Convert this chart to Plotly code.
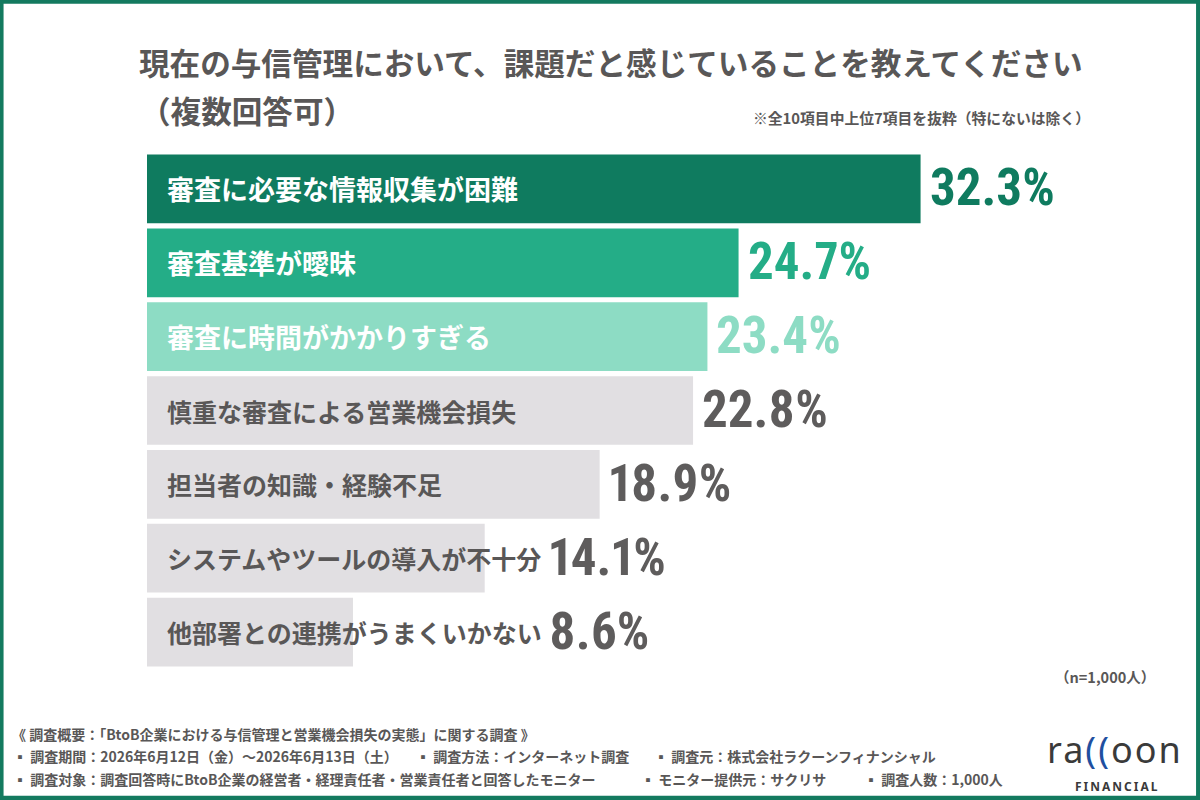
import plotly.graph_objects as go

categories = [
    "審査に必要な情報収集が困難",
    "審査基準が曖昧",
    "審査に時間がかかりすぎる",
    "慎重な審査による営業機会損失",
    "担当者の知識・経験不足",
    "システムやツールの導入が不十分",
    "他部署との連携がうまくいかない",
]
values = [32.3, 24.7, 23.4, 22.8, 18.9, 14.1, 8.6]
value_labels = ["32.3%", "24.7%", "23.4%", "22.8%", "18.9%", "14.1%", "8.6%"]

bar_colors = ["#0f7b5f", "#24ad87", "#8ddcc4", "#e1dfe2", "#e1dfe2", "#e1dfe2", "#e1dfe2"]
label_colors = ["#ffffff", "#ffffff", "#ffffff", "#595757", "#595757", "#595757", "#595757"]
value_colors = ["#0f7b5f", "#24ad87", "#8ddcc4", "#5e5c5c", "#5e5c5c", "#5e5c5c", "#5e5c5c"]
label_sizes = [27, 27, 27, 25, 25, 25, 25]

title_line1 = "現在の与信管理において、課題だと感じていることを教えてください"
title_line2 = "（複数回答可）"
note_text = "※全10項目中上位7項目を抜粋（特にないは除く）"
n_text = "（n=1,000人）"
footer_line1 = "《 調査概要：「BtoB企業における与信管理と営業機会損失の実態」に関する調査 》"
footer_items2 = ["▪ 調査期間：2026年6月12日（金）～2026年6月13日（土）", "▪ 調査方法：インターネット調査", "▪ 調査元：株式会社ラクーンフィナンシャル"]
footer_items3 = ["▪ 調査対象：調査回答時にBtoB企業の経営者・経理責任者・営業責任者と回答したモニター", "▪ モニター提供元：サクリサ", "▪ 調査人数：1,000人"]

W, H = 1200, 800
ML, MT = 147, 152
PX_PER_UNIT = 23.96
XMAX = 40.0
PLOT_W = XMAX * PX_PER_UNIT
MR = W - ML - PLOT_W
PLOT_H = 517.5
MB = H - MT - PLOT_H

def px(x):
    return (x - ML) / PLOT_W

def py(y):
    return (MT + PLOT_H - y) / PLOT_H

JP = "Noto Sans CJK JP"
NUM = "Roboto, sans-serif"
LABEL_PAD = 18

ypos = list(range(len(categories)))

fig = go.Figure()
fig.add_trace(go.Bar(
    x=values, y=ypos, orientation="h",
    marker=dict(color=bar_colors, line=dict(width=0)),
    width=0.93, hoverinfo="skip", showlegend=False,
))

annotations = []
for i, (cat, v, lab) in enumerate(zip(categories, values, value_labels)):
    annotations.append(dict(
        x=0, y=i, xref="x", yref="y", text=cat, showarrow=False,
        xanchor="left", yanchor="middle", xshift=LABEL_PAD,
        font=dict(family=JP, size=label_sizes[i], color=label_colors[i], weight="bold"),
    ))
    # value label goes after the bar end, or after the category text if that is longer
    text_end_units = (LABEL_PAD + len(cat) * label_sizes[i]) / PX_PER_UNIT
    anchor_x = max(v, text_end_units)
    annotations.append(dict(
        x=anchor_x, y=i, xref="x", yref="y",
        text=f"<span style=\"font-stretch:75%;font-feature-settings:'pnum'\">{lab}</span>", showarrow=False,
        xanchor="left", yanchor="middle", xshift=7, yshift=1,
        font=dict(family=NUM, size=51, color=value_colors[i], weight="bold"),
    ))

def add_text(text, x, y, size, xanchor="left", color="#595757", family=JP, weight="bold"):
    annotations.append(dict(
        x=px(x), y=py(y), xref="paper", yref="paper", text=text, showarrow=False,
        xanchor=xanchor, yanchor="middle",
        font=dict(family=family, size=size, color=color, weight=weight),
    ))

add_text(title_line1, 137, 62, 30.6)
add_text(title_line2, 138, 110, 30.6)
add_text(note_text, 1092, 117, 14.8, xanchor="right")
add_text(n_text, 1157, 677, 14.5, xanchor="right")
add_text(footer_line1, 10, 735, 14)
for t, x in zip(footer_items2, [11, 414, 652]):
    add_text(t, x, 757, 14)
for t, x in zip(footer_items3, [11, 639, 862]):
    add_text(t, x, 780, 14)

# logo
add_text("<span style='letter-spacing:2px'>ra<span style='color:#1f4fa0'>((</span>oon</span>", 1115, 750, 36,
         xanchor="center", color="#3a3a3a", family="Noto Sans, sans-serif", weight="normal")
add_text("<span style='letter-spacing:2px'>FINANCIAL</span>", 1117, 787, 12, xanchor="center",
         color="#3a3a3a", family="Noto Sans, sans-serif")

shapes = [dict(
    type="rect", xref="paper", yref="paper",
    x0=px(0), x1=px(W), y0=py(H), y1=py(0),
    line=dict(color="#137a5f", width=7), fillcolor="rgba(0,0,0,0)", layer="above",
)]

fig.update_layout(
    width=W, height=H,
    margin=dict(l=ML, r=MR, t=MT, b=MB, pad=0),
    paper_bgcolor="#ffffff", plot_bgcolor="#ffffff",
    bargap=0.07,
    xaxis=dict(range=[0, XMAX], visible=False, fixedrange=True),
    yaxis=dict(range=[len(categories) - 0.5, -0.5], visible=False, fixedrange=True),
    annotations=annotations, shapes=shapes,
    showlegend=False,
)

fig.write_html("out.html", config={"displayModeBar": False})
